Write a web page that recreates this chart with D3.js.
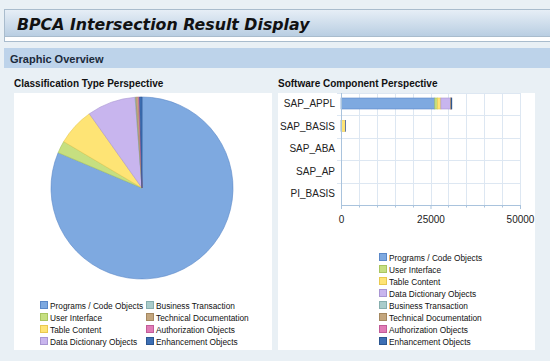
<!DOCTYPE html>
<html><head><meta charset="utf-8">
<script src="https://cdn.jsdelivr.net/npm/d3@7"></script>
<style>
html,body{margin:0;padding:0;background:#e9f0f5;}
svg{display:block;}
</style></head>
<body>
<svg id="c" width="550" height="361"></svg>
<script>
const categories = ["Programs / Code Objects","User Interface","Table Content","Data Dictionary Objects","Business Transaction","Technical Documentation","Authorization Objects","Enhancement Objects"];
const colors = ["#7ea9e0","#c6df80","#fee475","#c8b5ee","#aacccb","#c3a67e","#e07cb6","#3d6fb4"];
const strokes = ["#5b88c8","#a9c560","#e8c94f","#a895d2","#87aeae","#a58860","#c25c98","#2c5690"];
const components = ["SAP_APPL","SAP_BASIS","SAP_ABA","SAP_AP","PI_BASIS"];
// values per component, per category (order as categories)
const SAP_APPL  = [26200, 700, 1000, 2700, 40, 150, 60, 120];
const SAP_BASIS = [60, 0, 1150, 80, 0, 0, 0, 20];
const SAP_ABA   = [0, 0, 0, 0, 0, 0, 0, 0];
const SAP_AP    = [0, 0, 0, 0, 0, 0, 0, 0];
const PI_BASIS  = [0, 0, 0, 0, 0, 0, 0, 0];
const xTicks = [0, 25000, 50000];

const rows = [SAP_APPL, SAP_BASIS, SAP_ABA, SAP_AP, PI_BASIS];
const svg = d3.select("#c");
const FONT = "Arial, 'Liberation Sans', sans-serif";

// ---- header ----
const defs = svg.append("defs");
const g1 = defs.append("linearGradient").attr("id","tg").attr("x1",0).attr("y1",0).attr("x2",0).attr("y2",1);
g1.append("stop").attr("offset","0%").attr("stop-color","#e6eef6");
g1.append("stop").attr("offset","100%").attr("stop-color","#b9cee2");
svg.append("rect").attr("x",4.5).attr("y",9.5).attr("width",560).attr("height",32).attr("fill","#fff").attr("stroke","#a9bccd");
svg.append("rect").attr("x",5).attr("y",10).attr("width",560).attr("height",26).attr("fill","url(#tg)");
svg.append("line").attr("x1",5).attr("x2",560).attr("y1",36.5).attr("y2",36.5).attr("stroke","#a9bccd");
svg.append("text").attr("x",17).attr("y",30).text("BPCA Intersection Result Display")
  .attr("font-family","Verdana, 'DejaVu Sans', sans-serif").attr("font-weight","bold").attr("font-style","italic")
  .attr("font-size",15.8).attr("fill","#111");

svg.append("rect").attr("x",4).attr("y",48).attr("width",546).attr("height",20).attr("fill","#bdd3ea");
svg.append("text").attr("x",10).attr("y",63).text("Graphic Overview")
  .attr("font-family",FONT).attr("font-weight","bold").attr("font-size",11).attr("fill","#1b2a3a");

// panels
svg.append("text").attr("x",14).attr("y",87).text("Classification Type Perspective")
  .attr("font-family",FONT).attr("font-weight","bold").attr("font-size",10).attr("fill","#111");
svg.append("text").attr("x",278).attr("y",87).text("Software Component Perspective")
  .attr("font-family",FONT).attr("font-weight","bold").attr("font-size",10).attr("fill","#111");
svg.append("rect").attr("x",14).attr("y",93).attr("width",258).attr("height",257).attr("fill","#fff");
svg.append("rect").attr("x",278).attr("y",93).attr("width",257).attr("height",257).attr("fill","#fff");

// ---- pie ----
const totals = categories.map((c,i)=>d3.sum(rows, r=>r[i]));
const pie = d3.pie().sort(null).value(d=>d)(totals);
const arc = d3.arc().innerRadius(0).outerRadius(91);
const pg = svg.append("g").attr("transform","translate(142,188)");
pg.selectAll("path").data(pie).join("path").attr("d",arc)
  .attr("fill",(d,i)=>colors[i]).attr("stroke",(d,i)=>strokes[i]).attr("stroke-width",0.6);

// left legend
const ll = svg.append("g");
categories.forEach((c,i)=>{
  const col = Math.floor(i/4), row = i%4;
  const x = 40 + col*106, y = 301 + row*12;
  ll.append("rect").attr("x",x+0.5).attr("y",y+0.5).attr("width",7).attr("height",7)
    .attr("fill",colors[i]).attr("stroke",strokes[i]);
  ll.append("text").attr("x",x+10).attr("y",y+7.5).text(c)
    .attr("font-family",FONT).attr("font-size",8.3).attr("fill","#111");
});

// ---- bar chart ----
const x = d3.scaleLinear().domain([0,50000]).range([341,520]);
const y = d3.scaleBand().domain(components).range([93,205]);
const bg = svg.append("g");
// gridlines
bg.selectAll("line.v").data(d3.range(5000,50001,5000)).join("line")
  .attr("x1",d=>Math.round(x(d))+0.5).attr("x2",d=>Math.round(x(d))+0.5).attr("y1",93).attr("y2",205)
  .attr("stroke","#dde7f2");
bg.selectAll("line.h").data(components.slice(1)).join("line")
  .attr("x1",337).attr("x2",520).attr("y1",d=>Math.round(y(d))+0.5).attr("y2",d=>Math.round(y(d))+0.5)
  .attr("stroke","#dde7f2");
bg.append("line").attr("x1",337).attr("x2",520).attr("y1",93.5).attr("y2",93.5).attr("stroke","#dde7f2");
// stacked bars
const stackData = components.map((c,ci)=>{const o={comp:c}; categories.forEach((k,i)=>o[k]=rows[ci][i]); return o;});
const series = d3.stack().keys(categories)(stackData);
series.forEach((s,si)=>{
  bg.append("g").selectAll("rect").data(s).join("rect")
    .attr("x",d=>x(d[0])).attr("width",d=>Math.max(0,x(d[1])-x(d[0])))
    .attr("y",d=>y(d.data.comp)+5).attr("height",11)
    .attr("fill",colors[si]).attr("stroke",d=>(d[1]-d[0])>0?strokes[si]:"none").attr("stroke-width",0.6);
});
// axes
const xa = d3.axisBottom(x).tickValues(xTicks).tickSize(4).tickFormat(d3.format("d"));
const xg = svg.append("g").attr("transform","translate(0,205)").call(xa);
xg.select(".domain").attr("stroke","#a9c3dd").attr("d","M341.5,0.5H520.5");
xg.selectAll(".tick line").attr("stroke","#a9c3dd");
xg.selectAll(".tick text").attr("font-family",FONT).attr("font-size",10).attr("fill","#222").attr("dy","1.1em");
// minor ticks
svg.append("g").selectAll("line").data(d3.range(5000,50000,5000).filter(v=>v!==25000)).join("line")
  .attr("x1",d=>Math.round(x(d))+0.5).attr("x2",d=>Math.round(x(d))+0.5).attr("y1",205).attr("y2",207.5).attr("stroke","#a9c3dd");
const ya = d3.axisLeft(y).tickSize(0).tickPadding(6);
const yg = svg.append("g").attr("transform","translate(341,0)").call(ya);
yg.select(".domain").attr("stroke","#a9c3dd").attr("d","M0.5,93V205.5");
yg.selectAll(".tick text").attr("font-family",FONT).attr("font-size",10).attr("fill","#222");

// right legend
const rl = svg.append("g");
categories.forEach((c,i)=>{
  const yy = 253 + i*12;
  rl.append("rect").attr("x",379.5).attr("y",yy+0.5).attr("width",7).attr("height",7)
    .attr("fill",colors[i]).attr("stroke",strokes[i]);
  rl.append("text").attr("x",389).attr("y",yy+7.5).text(c)
    .attr("font-family",FONT).attr("font-size",8.3).attr("fill","#111");
});
</script>
</body></html>
